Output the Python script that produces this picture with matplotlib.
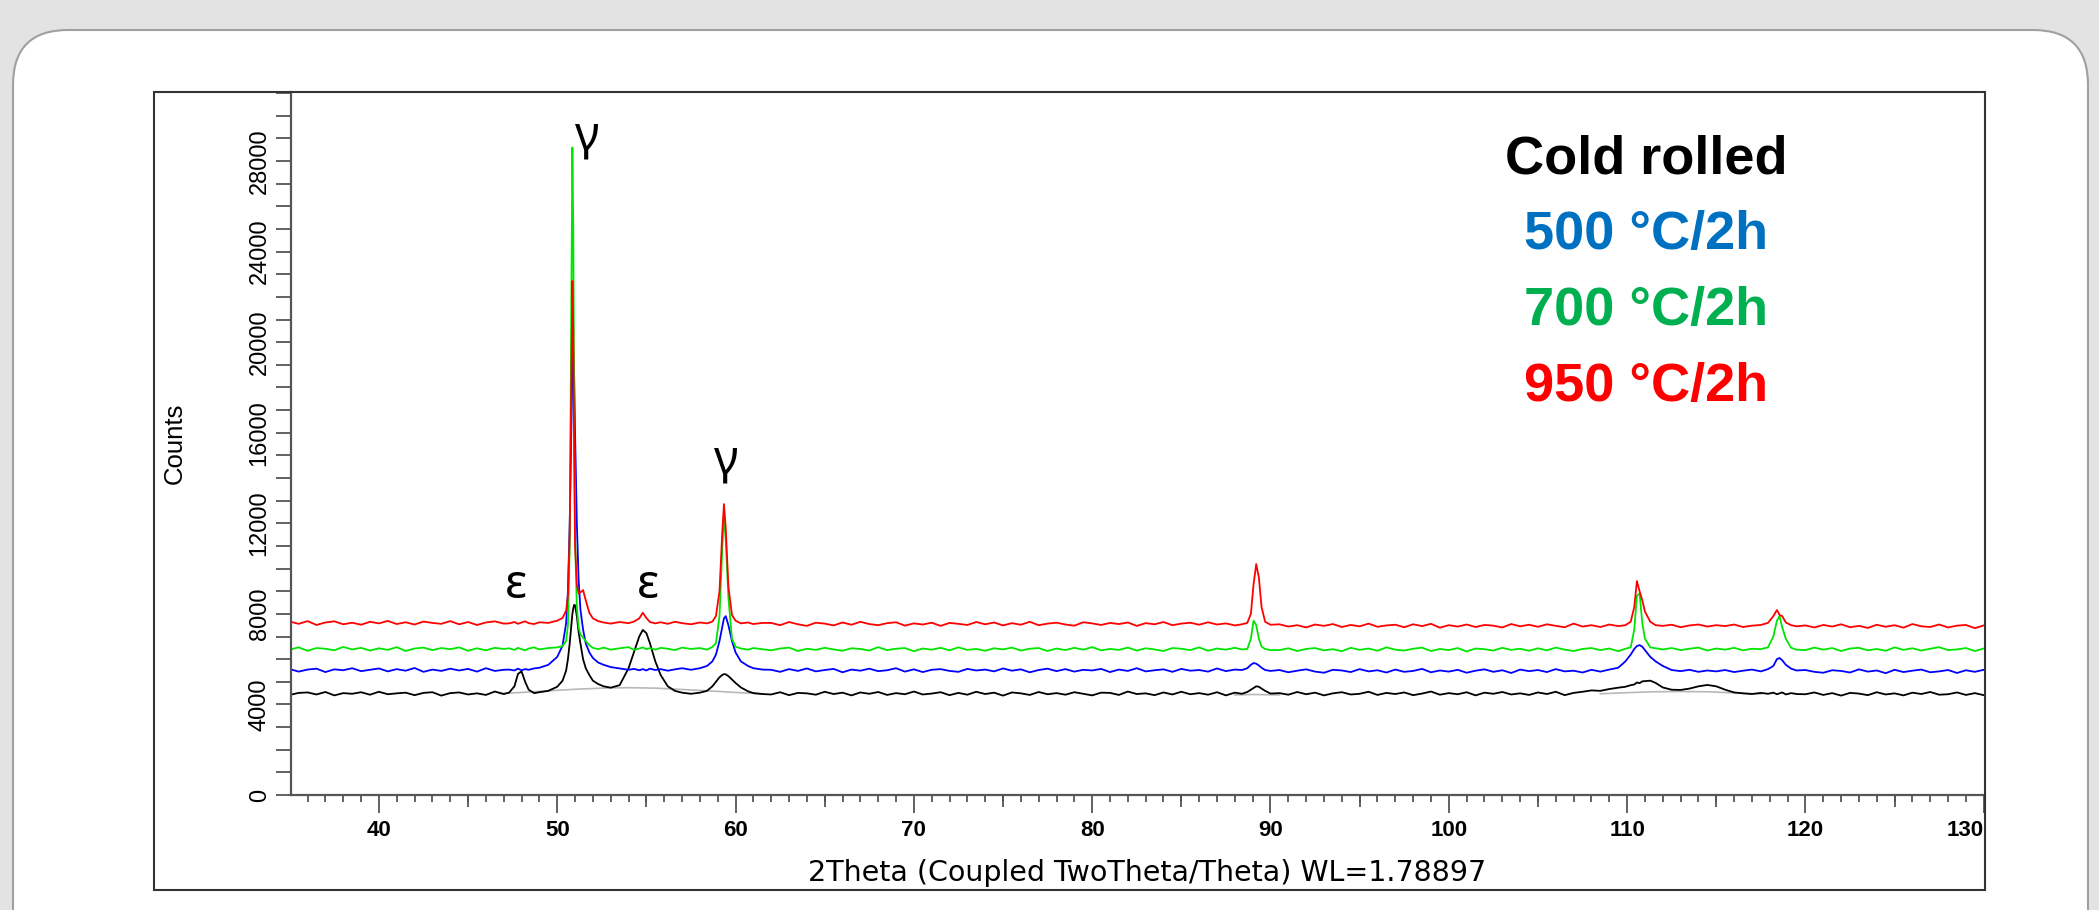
import matplotlib
matplotlib.use("Agg")
import matplotlib.pyplot as plt
from matplotlib.patches import FancyBboxPatch, Rectangle
from matplotlib.transforms import IdentityTransform
from matplotlib.ticker import MultipleLocator

W, H, DPI = 2099, 910, 100

# 2theta grid (deg): coarse on flat parts, dense at peaks
two_theta = [
    35.0, 35.5, 36.0, 36.5, 37.0, 37.5, 38.0, 38.5, 39.0, 39.5, 40.0, 40.5, 41.0,
    41.5, 42.0, 42.5, 43.0, 43.5, 44.0, 44.5, 45.0, 45.5, 46.0, 46.5, 47.0,
    # 47.3 - 61.5
    47.3, 47.6, 47.8, 48.0, 48.2, 48.4, 48.7, 49.0, 49.5, 50.0,
    50.3, 50.5, 50.6, 50.7, 50.8, 50.85, 50.9, 50.95, 51.0, 51.1,
    51.2, 51.3, 51.45, 51.6, 51.8, 52.0, 52.3, 52.6, 53.0, 53.5,
    54.0, 54.3, 54.6, 54.8, 55.0, 55.2, 55.5, 55.8, 56.2, 56.6,
    57.0, 57.5, 58.0, 58.4, 58.7, 58.9, 59.1, 59.25, 59.35, 59.45,
    59.6, 59.8, 60.0, 60.3, 60.7, 61.0, 61.5,
    # 62 - 88
    62.0, 62.5, 63.0, 63.5, 64.0, 64.5, 65.0, 65.5, 66.0, 66.5, 67.0, 67.5, 68.0,
    68.5, 69.0, 69.5, 70.0, 70.5, 71.0, 71.5, 72.0, 72.5, 73.0, 73.5, 74.0, 74.5,
    75.0, 75.5, 76.0, 76.5, 77.0, 77.5, 78.0, 78.5, 79.0, 79.5, 80.0, 80.5, 81.0,
    81.5, 82.0, 82.5, 83.0, 83.5, 84.0, 84.5, 85.0, 85.5, 86.0, 86.5, 87.0, 87.5,
    88.0,
    # 88.4 - 90
    88.4, 88.7, 88.9, 89.05, 89.2, 89.35, 89.5, 89.7, 90.0,
    # 90.5 - 109.5
    90.5, 91.0, 91.5, 92.0, 92.5, 93.0, 93.5, 94.0, 94.5, 95.0, 95.5, 96.0, 96.5,
    97.0, 97.5, 98.0, 98.5, 99.0, 99.5, 100.0, 100.5, 101.0, 101.5, 102.0, 102.5,
    103.0, 103.5, 104.0, 104.5, 105.0, 105.5, 106.0, 106.5, 107.0, 107.5, 108.0,
    108.5, 109.0, 109.5,
    # 109.9 - 119.5
    109.9, 110.2, 110.4, 110.55, 110.7, 110.85, 111.0, 111.3, 111.6, 112.0,
    112.5, 113.0, 113.5, 114.0, 114.5, 115.0, 115.5, 116.0, 116.5, 117.0,
    117.5, 117.9, 118.2, 118.4, 118.55, 118.7, 118.9, 119.2, 119.5,
    # 120 - 130.5
    120.0, 120.5, 121.0, 121.5, 122.0, 122.5, 123.0, 123.5, 124.0, 124.5, 125.0,
    125.5, 126.0, 126.5, 127.0, 127.5, 128.0, 128.5, 129.0, 129.5, 130.0, 130.5,
]

cold_rolled = [
    4420, 4510, 4530, 4440, 4550, 4400, 4500, 4470, 4540, 4430, 4560, 4450, 4490,
    4520, 4410, 4510, 4540, 4390, 4500, 4530, 4440, 4490, 4420, 4570, 4460,
    4520, 4800, 5350, 5460, 5000, 4650, 4500, 4540, 4600, 4780,
    5050, 5500, 6000, 6700, 7600, 8000, 8250, 8400, 8380, 7900,
    7200, 6700, 6000, 5600, 5300, 5050, 4900, 4800, 4740, 4850,
    5600, 6300, 7000, 7290, 7150, 6700, 5900, 5300, 4800, 4600,
    4520, 4470, 4520, 4600, 4800, 5000, 5200, 5300, 5340, 5330,
    5250, 5100, 4950, 4750, 4580, 4500, 4460,
    4440, 4540, 4410, 4510, 4490, 4430, 4560, 4460, 4520, 4400, 4530, 4470, 4550,
    4420, 4500, 4450, 4570, 4440, 4480, 4540, 4410, 4510, 4430, 4560, 4460, 4520,
    4390, 4530, 4490, 4420, 4550, 4450, 4500, 4430, 4540, 4470, 4400, 4520, 4510,
    4420, 4570, 4460, 4490, 4410, 4530, 4440, 4560, 4450, 4500, 4430, 4540, 4400,
    4520,
    4470, 4550, 4650, 4720, 4800, 4780, 4700, 4600, 4480,
    4500, 4430, 4550, 4450, 4520, 4400, 4490, 4540, 4440, 4470, 4560, 4420, 4510,
    4460, 4530, 4410, 4480, 4570, 4430, 4500, 4450, 4540, 4400, 4520, 4470, 4550,
    4440, 4490, 4420, 4530, 4460, 4560, 4410, 4510, 4560, 4620, 4600, 4680, 4740,
    4780, 4850, 4880, 4970, 4940, 5020, 5030, 5050, 4950, 4750,
    4650, 4640, 4700, 4800, 4860, 4800, 4650, 4530, 4490, 4460,
    4510, 4470, 4520, 4450, 4490, 4530, 4440, 4500, 4460,
    4450, 4530, 4420, 4500, 4390, 4510, 4480, 4410, 4540, 4440, 4490,
    4400, 4520, 4460, 4550, 4430, 4450, 4530, 4420, 4500, 4410, 4480,
]

c500 = [
    5560, 5450, 5540, 5580, 5430, 5550, 5510, 5600, 5470, 5530, 5590, 5460, 5560,
    5490, 5610, 5440, 5540, 5480, 5580, 5500, 5570, 5450, 5600, 5480, 5530,
    5540, 5500, 5580, 5510, 5560, 5530, 5590, 5620, 5750, 6100,
    6600, 7600, 9000, 12000, 16500, 18800, 19500, 18500, 16000, 12000,
    9500, 8200, 7300, 6700, 6300, 6050, 5850, 5750, 5650, 5590,
    5530, 5570, 5510, 5560, 5500, 5580, 5520, 5560, 5490, 5550,
    5600, 5530, 5600, 5700, 5900, 6200, 6800, 7400, 7800, 7900,
    7500, 6800, 6300, 5900, 5700, 5600, 5540,
    5530, 5440, 5560, 5480, 5590, 5460, 5520, 5570, 5420, 5540, 5490, 5580, 5470,
    5510, 5600, 5450, 5550, 5430, 5530, 5560, 5480, 5440, 5570, 5500, 5540, 5460,
    5590, 5490, 5550, 5420, 5520, 5580, 5470, 5560, 5450, 5530, 5500, 5570, 5430,
    5540, 5480, 5600, 5460, 5510, 5550, 5440, 5570, 5490, 5520, 5450, 5590, 5470,
    5540,
    5520, 5600, 5750, 5830, 5800, 5720, 5620, 5520, 5480,
    5520, 5420, 5490, 5550, 5450, 5400, 5530, 5500, 5430, 5560, 5460, 5510, 5410,
    5540, 5440, 5480, 5570, 5420, 5500, 5450, 5530, 5400, 5490, 5550, 5440, 5510,
    5390, 5540, 5470, 5520, 5430, 5560, 5460, 5490, 5410, 5530, 5450, 5540, 5620,
    5900, 6200, 6450, 6580, 6620, 6550, 6400, 6100, 5900, 5700,
    5520, 5470, 5530, 5440, 5500, 5460, 5520, 5430, 5490, 5540,
    5460, 5560, 5700, 6000, 6050, 5950, 5750, 5580, 5500,
    5520, 5440, 5400, 5510, 5480, 5410, 5550, 5450, 5500, 5380, 5530,
    5430, 5490, 5540, 5420, 5460, 5520, 5390, 5510, 5440, 5530, 5450,
]

c700 = [
    6420, 6520, 6370, 6490, 6460, 6390, 6540, 6430, 6500, 6380, 6480, 6410, 6530,
    6360, 6470, 6510, 6400, 6490, 6440, 6520, 6370, 6480, 6390, 6500, 6450,
    6480, 6410, 6500, 6440, 6390, 6470, 6520, 6430, 6490, 6520,
    6580, 6800, 7500, 11000, 23000, 28600, 25000, 17000, 11500, 8300,
    7400, 7100, 6950, 6800, 6620, 6500, 6440, 6510, 6420, 6480,
    6530, 6410, 6470, 6520, 6440, 6490, 6420, 6500, 6460, 6400,
    6510, 6450, 6490, 6420, 6540, 6700, 7900, 10800, 12300, 11300,
    8700, 6900, 6550, 6470, 6420, 6490, 6440,
    6390, 6470, 6510, 6360, 6460, 6410, 6500, 6430, 6370, 6480, 6450, 6380, 6530,
    6400, 6460, 6490, 6350, 6470, 6420, 6500, 6390, 6520, 6410, 6450, 6370, 6480,
    6430, 6510, 6380, 6460, 6490, 6360, 6470, 6400, 6500, 6420, 6530, 6390, 6450,
    6410, 6510, 6380, 6480, 6430, 6360, 6490, 6460, 6400, 6520, 6370, 6470, 6420,
    6500,
    6430, 6450, 6900, 7700, 7500, 6900, 6550, 6450, 6400,
    6400, 6480, 6360, 6450, 6490, 6390, 6440, 6350, 6500, 6410, 6470, 6370, 6520,
    6420, 6380, 6460, 6510, 6360, 6450, 6400, 6490, 6340, 6470, 6440, 6380, 6500,
    6410, 6460, 6370, 6480, 6390, 6510, 6420, 6360, 6450, 6490, 6400, 6470, 6350,
    6460, 6520, 7300, 8800, 8900, 7600, 6900, 6520, 6480, 6430,
    6490, 6400, 6460, 6510, 6380, 6470, 6420, 6500, 6390, 6460,
    6440, 6520, 7000, 7700, 7900, 7400, 6900, 6500, 6420,
    6400, 6510, 6420, 6490, 6360, 6470, 6500, 6390, 6450, 6370, 6520,
    6410, 6480, 6380, 6460, 6530, 6400, 6430, 6490, 6360, 6470, 6440,
]

c950 = [
    7660, 7560, 7680, 7510, 7620, 7670, 7540, 7610, 7520, 7650, 7580, 7690, 7550,
    7630, 7530, 7660, 7600, 7560, 7680, 7540, 7640, 7510, 7620, 7670, 7570,
    7580, 7640, 7560, 7620, 7670, 7590, 7550, 7630, 7600, 7700,
    7820, 8150, 8800, 11500, 19000, 22700, 20500, 15000, 11000, 9300,
    8900, 8950, 9050, 8600, 8050, 7800, 7680, 7620, 7570, 7640,
    7590, 7660, 7800, 8050, 7820, 7640, 7580, 7630, 7560, 7650,
    7590, 7540, 7620, 7580, 7660, 7900, 9000, 11500, 12850, 11800,
    9200, 7950, 7700, 7580, 7620, 7550, 7600,
    7600, 7500, 7640, 7540, 7470, 7610, 7570, 7490, 7620, 7520, 7650, 7550, 7500,
    7590, 7630, 7480, 7580, 7530, 7610, 7470, 7600, 7560, 7510, 7640, 7540, 7620,
    7490, 7590, 7520, 7650, 7500, 7570, 7610, 7530, 7480, 7630, 7580, 7510, 7600,
    7550, 7620, 7470, 7590, 7540, 7640, 7500, 7570, 7610, 7520, 7630, 7530, 7580,
    7490,
    7540, 7600, 8000, 9300, 10200, 9600, 8300, 7650, 7520,
    7540, 7440, 7500, 7400, 7530, 7470, 7550, 7420, 7510, 7450, 7570, 7430, 7490,
    7520, 7410, 7540, 7460, 7560, 7390, 7500, 7440, 7530, 7420, 7510, 7480, 7400,
    7550, 7450, 7520, 7430, 7540, 7470, 7410, 7570, 7440, 7500, 7420, 7530, 7460,
    7500, 7650, 8300, 9450, 9000, 8600, 8100, 7650, 7500, 7470,
    7520, 7410, 7490, 7530, 7440, 7500, 7460, 7530, 7420, 7480,
    7510, 7600, 7900, 8170, 7950, 7900, 7620, 7500, 7450,
    7490, 7400, 7510, 7440, 7540, 7410, 7470, 7380, 7520, 7430, 7500,
    7390, 7550, 7450, 7420, 7530, 7400, 7480, 7510, 7370, 7490, 7440,
]

# fitted background under the cold rolled pattern (grey)
bg_theta = [46.8, 48.0, 49.5, 51.0, 52.5, 54.0, 55.5, 57.0, 58.5, 60.0, 61.5, None,
            88.0, 89.0, 90.5, None,
            108.5, 110.0, 111.5, 113.0, 114.5, 116.0, 117.5]
bg_counts = [4480, 4530, 4600, 4670, 4720, 4740, 4720, 4660, 4600, 4530, 4470, None,
             4420, 4440, 4420, None,
             4470, 4520, 4560, 4570, 4560, 4510, 4460]

x_ticks = [40, 50, 60, 70, 80, 90, 100, 110, 120, 130]
x_mid_ticks = [45, 55, 65, 75, 85, 95, 105, 115, 125]
y_ticks = [0, 4000, 8000, 12000, 16000, 20000, 24000, 28000]

legend_labels = ["Cold rolled", "500 °C/2h", "700 °C/2h", "950 °C/2h"]
legend_colors = ["black", "#0070C0", "#00B050", "#FF0000"]

phase_labels = ["ε", "γ", "ε", "γ"]
phase_x = [47.68, 51.67, 55.09, 59.46]
phase_y = [8700, 28530, 8700, 14220]

assert len(two_theta) == len(cold_rolled) == len(c500) == len(c700) == len(c950)

fig = plt.figure(figsize=(W / DPI, H / DPI), dpi=DPI, facecolor="#e3e3e3")

# white rounded slide panel and the outer frame of the pasted chart
panel = FancyBboxPatch((13, -60), 2075, 940, boxstyle="round,pad=0,rounding_size=55",
                       transform=IdentityTransform(), fc="white", ec="#a0a0a0",
                       lw=1.5, zorder=-10)
fig.patches.append(panel)
frame = Rectangle((154 / W, 1 - 890 / H), (1985 - 154) / W, (890 - 92) / H,
                  transform=fig.transFigure, fill=False, ec="#333333", lw=1.5, zorder=5)
fig.patches.append(frame)

ax = fig.add_axes([291 / W, 1 - 795 / H, (1985 - 291) / W, (795 - 92) / H])
ax.set_facecolor("white")

ax.plot(bg_theta, bg_counts, color="#b8b8b8", lw=1.2)
ax.plot(two_theta, cold_rolled, color="black", lw=1.3)
ax.plot(two_theta, c500, color="#0000ff", lw=1.3)
ax.plot(two_theta, c700, color="#00e600", lw=1.3)
ax.plot(two_theta, c950, color="#ff0000", lw=1.3)

ax.set_xlim(35.07, 130.07)
ax.set_ylim(0, 31050)

for s in ["top", "right"]:
    ax.spines[s].set_visible(False)
for s in ["left", "bottom"]:
    ax.spines[s].set_color("#555555")
    ax.spines[s].set_linewidth(1.6)

ax.set_xticks(x_ticks)
ax.xaxis.set_minor_locator(MultipleLocator(1))
ax.tick_params(axis="x", which="major", direction="out", length=13, width=1.3,
               color="#555555", pad=5, labelsize=16)
ax.tick_params(axis="x", which="minor", direction="out", length=5, width=1.3,
               color="#555555")
xl = ax.get_xticklabels()
for lbl in xl:
    lbl.set_family("Liberation Sans")
    lbl.set_fontweight("bold")
xl[-1].set_ha("right")

sec = ax.secondary_xaxis("bottom")
sec.set_xticks(x_mid_ticks)
sec.tick_params(axis="x", direction="out", length=8.6, width=1.3, color="#555555",
                labelbottom=False)
sec.spines["bottom"].set_visible(False)

ax.set_yticks(y_ticks)
ax.yaxis.set_minor_locator(MultipleLocator(1000))
ax.tick_params(axis="y", which="both", direction="out", length=11, width=1.3,
               color="#555555")
ax.tick_params(axis="y", which="major", pad=3.6, labelsize=17, labelrotation=90)
for lbl in ax.get_yticklabels():
    lbl.set_va("center")
    lbl.set_family("Liberation Sans")

ax.set_xlabel("2Theta (Coupled TwoTheta/Theta) WL=1.78897", fontsize=20.5)
ax.xaxis.set_label_coords((1147 - 291) / (1985 - 291), -0.111)
ax.xaxis.label.set_va("center")
ax.set_ylabel("Counts", fontsize=18.5, family="Liberation Sans")
ax.yaxis.set_label_coords((175 - 291) / (1985 - 291), 0.5)
ax.yaxis.label.set_va("center")

for lab, px, py in zip(phase_labels, phase_x, phase_y):
    ax.text(px, py, lab, fontsize=34, family=["Noto Sans", "DejaVu Sans"],
            ha="center", va="baseline", color="black")

legend_base = [173, 249, 325, 401]
for txt, col, yb in zip(legend_labels, legend_colors, legend_base):
    fig.text(1646 / W, 1 - yb / H, txt, color=col, fontsize=39, fontweight="bold",
             family="Liberation Sans", ha="center", va="baseline")

fig.savefig("out.png", dpi=DPI, facecolor=fig.get_facecolor())
